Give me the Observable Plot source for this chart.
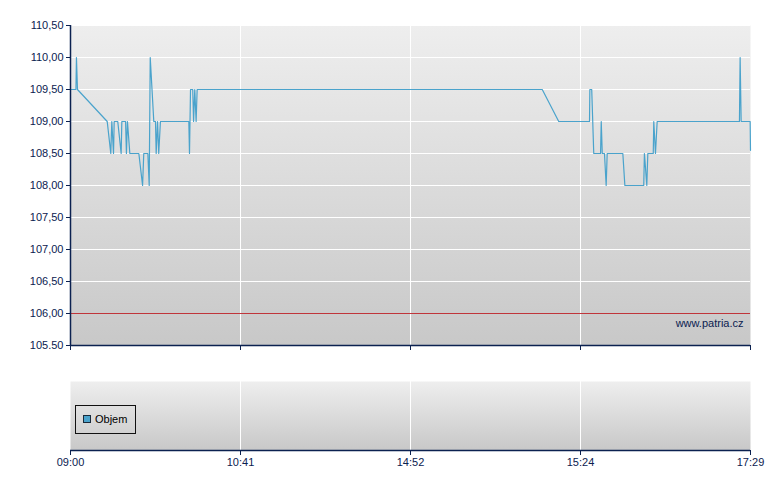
<!DOCTYPE html>
<html><head><meta charset="utf-8">
<script src="https://cdn.jsdelivr.net/npm/d3@7"></script>
<script src="https://cdn.jsdelivr.net/npm/@observablehq/plot@0.6"></script>
<style>
body{margin:0;background:#fff;font-family:"Liberation Sans",Arial,sans-serif;}
#wrap{position:relative;width:780px;height:490px;overflow:hidden;}
#wrap svg{display:block;}
.legend{position:absolute;left:75px;top:405px;width:61px;height:29px;border:1px solid #111;box-sizing:border-box;font:11px "Liberation Sans",Arial,sans-serif;color:#000;}
.legend .sw{position:absolute;left:7px;top:9px;width:8px;height:8px;background:#4aa3cc;border:1px solid #1a2a3a;box-sizing:border-box;}
.legend .lb{position:absolute;left:19px;top:7px;line-height:13px;}
</style>
</head><body>
<div id="wrap"></div>
<script>
// Trade sequence position (100 units between labelled ticks) and price
const tradePos = [0,3.2,3.5,4.1,21.6,23.7,24.3,25.3,25.7,27.8,29.8,30.2,32.4,32.9,33.5,34.9,40.2,42.4,43.1,45.5,46.3,46.9,49.0,50.0,50.4,51.2,51.9,52.9,69.6,70.0,70.6,71.9,72.4,73.1,73.9,74.5,277.5,287.2,305.3,305.5,306.6,307.8,311.8,312.2,312.8,314.1,315.1,315.7,324.9,326.1,337.2,337.6,339.0,339.6,342.8,343.1,344.1,345.1,393.5,393.9,394.5,399.8,400];
const price = [109.5,109.5,110.0,109.5,109.0,108.5,109.0,108.5,109.0,109.0,108.5,109.0,109.0,108.5,109.0,108.5,108.5,108.0,108.5,108.5,108.0,110.0,109.0,109.0,108.5,109.0,108.5,109.0,109.0,108.5,109.5,109.5,109.0,109.5,109.0,109.5,109.5,109.0,109.0,109.5,109.5,108.5,108.5,109.0,108.5,108.5,108.0,108.5,108.5,108.0,108.0,108.5,108.0,108.5,108.5,109.0,108.5,109.0,109.0,110.0,109.0,109.0,108.55];
const xTickPos = [0,100,200,300,400];
const xTickLabels = ["09:00","10:41","14:52","15:24","17:29"];
const yTicks = [105.5,106,106.5,107,107.5,108,108.5,109,109.5,110,110.5];
const yTickLabels = ["105.50","106,00","106,50","107,00","107,50","108,00","108,50","109,00","109,50","110,00","110,50"];
const refLevel = [106];
const sourceText = ["www.patria.cz"];
const legendLabel = "Objem";

const navy = "#0b2150";
const lineColor = "#4aa3cc";
const data = tradePos.map((x,i)=>({x, y: price[i]}));

function addGradient(svg, id){
  const defs = d3.select(svg).insert("defs", ":first-child");
  const g = defs.append("linearGradient").attr("id", id).attr("x1",0).attr("y1",0).attr("x2",0).attr("y2",1);
  g.append("stop").attr("offset","0%").attr("stop-color","#eeeeee");
  g.append("stop").attr("offset","100%").attr("stop-color","#c8c8c8");
}

const priceChart = Plot.plot({
  width: 780, height: 360,
  marginLeft: 70, marginRight: 30, marginTop: 25, marginBottom: 15,
  style: {fontFamily: '"Liberation Sans", Arial, sans-serif', fontSize: "11px", color: navy, background: "transparent"},
  x: {domain: [0,400]},
  y: {domain: [105.5,110.5]},
  marks: [
    Plot.frame({fill: "url(#bgTop)", stroke: null}),
    Plot.ruleY(yTicks.filter(v => v > 106), {stroke: "#ffffff", strokeWidth: 1}),
    Plot.ruleX(xTickPos.filter(v => v > 0 && v < 400), {stroke: "#ffffff", strokeWidth: 1}),
    Plot.ruleY(refLevel, {stroke: "#c0353a", strokeWidth: 1}),
    Plot.line(data, {x: "x", y: "y", stroke: lineColor, strokeWidth: 1.2, curve: "linear"}),
    Plot.text(sourceText, {frameAnchor: "bottom-right", text: d => d, dx: -7, dy: -22, fill: navy, fontSize: 11, lineAnchor: "middle"}),
    Plot.axisY({ticks: yTicks, tickFormat: (d,i) => yTickLabels[i], tickSize: 4, tickPadding: 3, stroke: navy, fill: navy, label: null}),
    Plot.axisX({ticks: xTickPos, tickFormat: () => "", tickSize: 5, stroke: navy, label: null}),
    Plot.ruleX([0], {stroke: navy, strokeWidth: 1.5}),
    Plot.ruleY([105.5], {stroke: navy, strokeWidth: 1.5})
  ]
});
addGradient(priceChart, "bgTop");

const volumeChart = Plot.plot({
  width: 780, height: 130,
  marginLeft: 70, marginRight: 30, marginTop: 21, marginBottom: 40,
  style: {fontFamily: '"Liberation Sans", Arial, sans-serif', fontSize: "11px", color: navy, background: "transparent"},
  x: {domain: [0,400]},
  y: {domain: [0,1], axis: null},
  marks: [
    Plot.frame({fill: "url(#bgBot)", stroke: null}),
    Plot.ruleX(xTickPos.filter(v => v > 0 && v < 400), {stroke: "#ffffff", strokeWidth: 1}),
    Plot.axisX({ticks: xTickPos, tickFormat: (d,i) => xTickLabels[i], tickSize: 5, tickPadding: 3, stroke: navy, fill: navy, label: null}),
    Plot.ruleY([0], {stroke: navy, strokeWidth: 1.5})
  ]
});
addGradient(volumeChart, "bgBot");

const wrap = document.getElementById("wrap");
wrap.appendChild(priceChart);
wrap.appendChild(volumeChart);
const lg = document.createElement("div");
lg.className = "legend";
lg.innerHTML = `<div class="sw"></div><div class="lb">${legendLabel}</div>`;
wrap.appendChild(lg);
</script>
</body></html>
